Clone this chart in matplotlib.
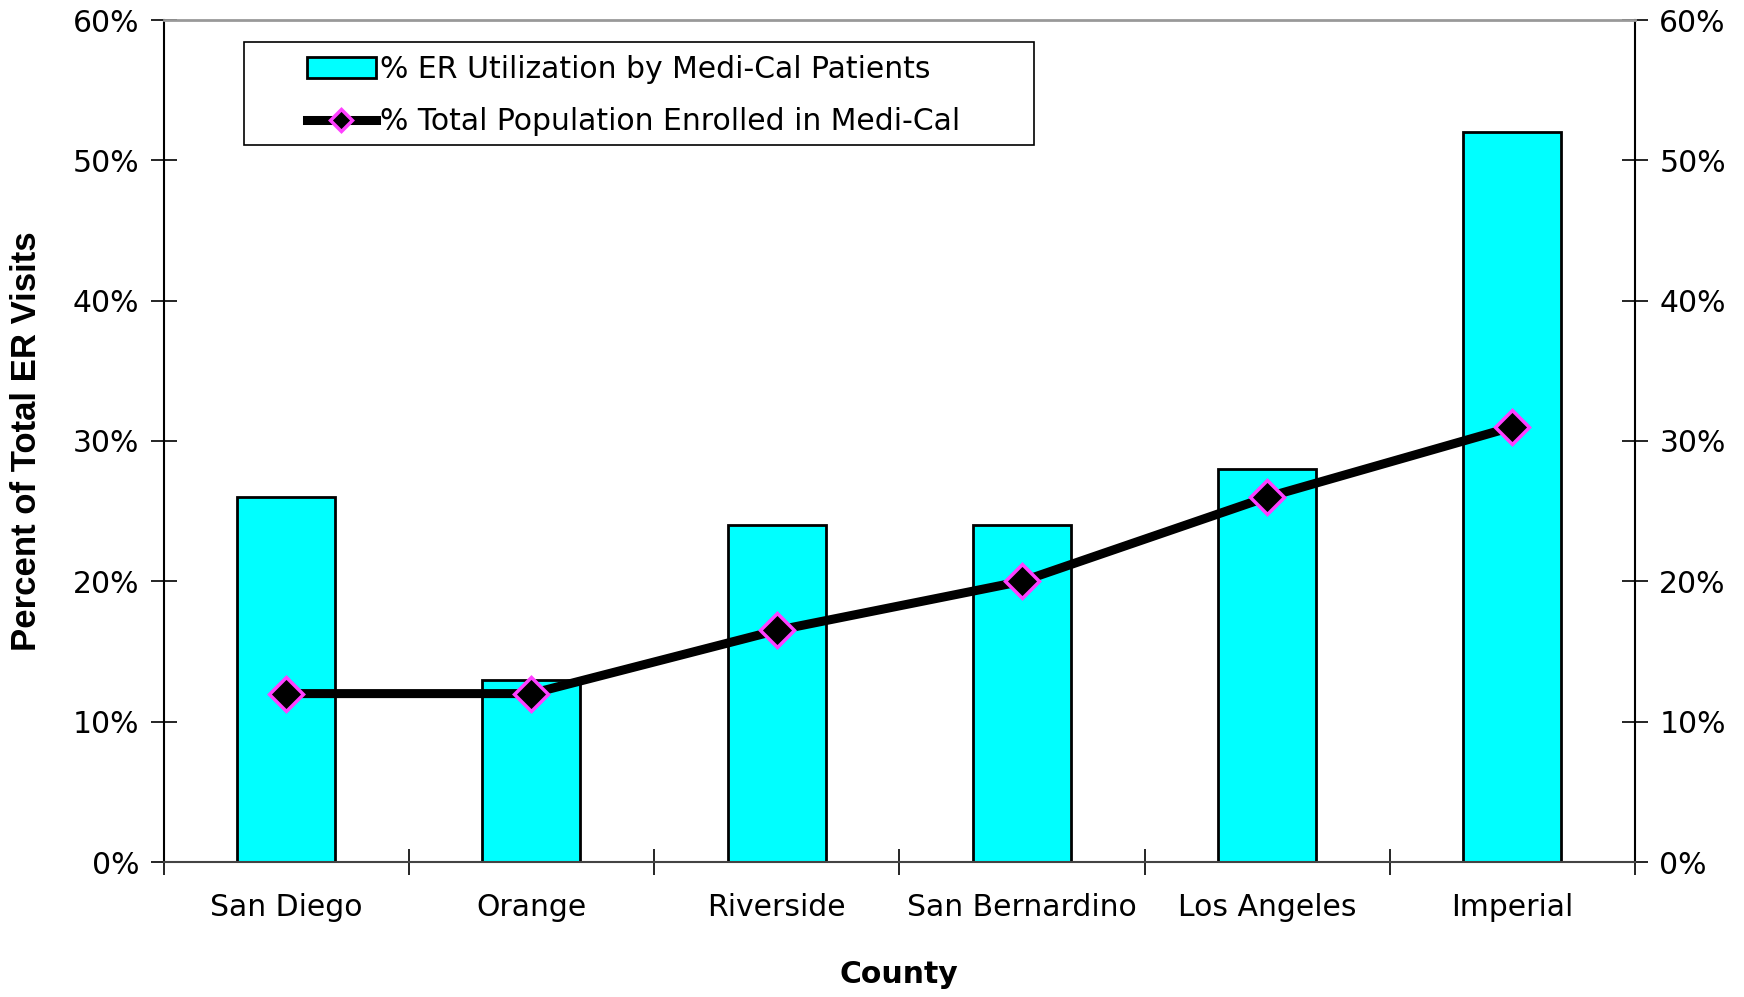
import numpy as np
import matplotlib.pyplot as plt
from matplotlib.patches import Rectangle
from matplotlib.ticker import PercentFormatter

counties = ['San Diego', 'Orange', 'Riverside', 'San Bernardino', 'Los Angeles', 'Imperial']
er_util = [26, 13, 24, 24, 28, 52]
enrolled = [12, 12, 16.5, 20, 26, 31]

fig = plt.figure(figsize=(17.44, 9.97), dpi=100)
ax = fig.add_axes([163.5 / 1744, 1 - 862 / 997, (1635 - 163.5) / 1744, (862 - 20) / 997])

x = np.arange(len(counties))
bars = ax.bar(x, er_util, width=0.4, color='#00FFFF', edgecolor='black', linewidth=2,
              label='% ER Utilization by Medi-Cal Patients', zorder=2)
line, = ax.plot(x, enrolled, color='black', linewidth=6.5, marker='D', markersize=17,
                markerfacecolor='black', markeredgecolor='#FF40FF', markeredgewidth=2.5,
                label='% Total Population Enrolled in Medi-Cal', zorder=3)

ax.set_xlim(-0.5, len(counties) - 0.5)
ax.set_ylim(0, 60)
ax.set_yticks(np.arange(0, 61, 10))
ax.yaxis.set_major_formatter(PercentFormatter(decimals=0))
ax.set_xticks(x)
ax.set_xticklabels(counties, fontsize=21.5)
ax.set_xticks(np.arange(-0.5, len(counties)), minor=True)
ax.tick_params(axis='x', which='major', length=0, pad=22)
ax.tick_params(axis='x', which='minor', direction='inout', length=19, width=1.2)
ax.tick_params(axis='y', direction='inout', length=19, width=1.2, labelsize=21.5,
               labelleft=True, labelright=True, right=True, pad=8)

for side in ['left', 'right', 'bottom']:
    ax.spines[side].set_linewidth(1.5)
ax.spines['bottom'].set_color('#444444')
ax.spines['top'].set_color('#999999')
ax.spines['top'].set_linewidth(2)

ax.set_xlabel('County', fontsize=21.5, fontweight='bold', labelpad=28)
ax.set_ylabel('Percent of Total ER Visits', fontsize=25, fontweight='bold',
              family='Liberation Sans', labelpad=21)

# legend box drawn separately (the original has wide side padding)
ax.add_patch(Rectangle((0.0544, 0.852), 0.5374, 0.1215, transform=ax.transAxes,
                       facecolor='white', edgecolor='black', linewidth=1.2, zorder=4))
leg = ax.legend([bars, line], [bars.get_label(), line.get_label()],
                loc='upper left', bbox_to_anchor=(0.0974, 0.958), fontsize=21.5,
                frameon=False, handlelength=2.3, handletextpad=0.15, borderpad=0,
                labelspacing=0.77, borderaxespad=0)
leg.set_zorder(5)
for h in leg.legend_handles:
    if hasattr(h, 'set_markersize'):
        h.set_markersize(11)

fig.savefig('out.png', dpi=100)
